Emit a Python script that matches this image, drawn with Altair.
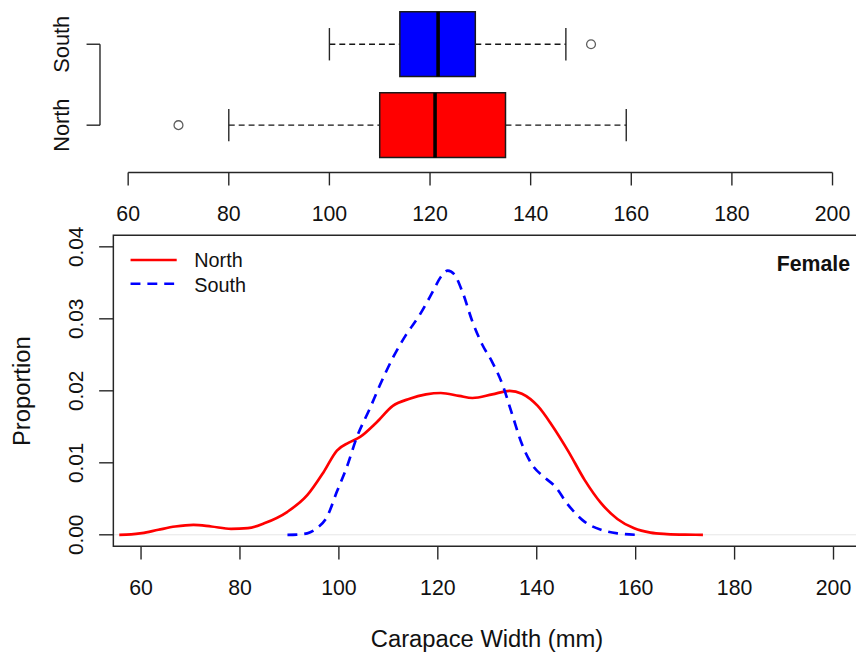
import altair as alt
import pandas as pd

# ---------------- data ----------------
groups = ["North", "South"]
group_pos = [1, 2]
box_lower = [80, 100]
box_q1 = [110, 114]
box_median = [121, 121.6]
box_q3 = [135, 129]
box_upper = [159, 147]
outlier_groups = ["North", "South"]
outlier_values = [70, 152]

north_x = [55.6, 58.0, 60.2, 63.5, 66.9, 70.6, 74.2, 78.2, 81.6, 84.9, 89.6, 93.6,
           96.9, 99.6, 102.0, 104.3, 107.6, 110.9, 114.3, 117.6, 120.6, 124.3, 127.0,
           131.0, 134.5, 137.0, 140.2, 143.0, 146.3, 149.7, 153.0, 156.3, 159.7,
           163.0, 166.3, 170.0, 173.6]
north_y = [0.0, 0.00005, 0.00023, 0.0007, 0.00115, 0.00138, 0.00115, 0.00083, 0.00092,
           0.0016, 0.0032, 0.0055, 0.0087, 0.0117, 0.0128, 0.0136, 0.0156, 0.0179,
           0.0189, 0.0195, 0.0197, 0.0193, 0.0190, 0.0195, 0.0200, 0.0196, 0.0179,
           0.0153, 0.0117, 0.0076, 0.0044, 0.0022, 0.0009, 0.0003, 0.0001, 0.00002, 0.0]

south_x = [89.6, 91.5, 93.6, 95.5, 97.6, 99.6, 101.6, 103.6, 106.3, 108.3, 111.0,
           113.6, 116.3, 119.0, 120.6, 122.0, 123.3, 125.0, 127.0, 129.0, 131.0,
           133.0, 135.0, 137.0, 139.0, 141.7, 143.6, 146.3, 149.7, 153.0, 156.3, 160.3]
south_y = [0.0, 0.00003, 0.0002, 0.0009, 0.0025, 0.0060, 0.0094, 0.0135, 0.0176,
           0.0208, 0.0247, 0.0278, 0.0305, 0.0338, 0.0358, 0.0367, 0.0362, 0.0337,
           0.0296, 0.0264, 0.0240, 0.0210, 0.0168, 0.0126, 0.0098, 0.0079, 0.0068,
           0.0042, 0.0018, 0.0007, 0.0002, 0.0]

x_ticks = [60, 80, 100, 120, 140, 160, 180, 200]
y_ticks = [0.0, 0.01, 0.02, 0.03, 0.04]
y_tick_labels = ["0.00", "0.01", "0.02", "0.03", "0.04"]
panel_label = "Female"
x_title = "Carapace Width (mm)"
y_title = "Proportion"
colors = ["#ff0000", "#0000ff"]

# ---------------- layout / style ----------------
W, H = 856, 653
FONT = "Liberation Sans"
INK = "#262626"
TXT = "#111111"
TICK_FS = 21.5
TITLE_FS = 24

XT = alt.Scale(domain=[60, 200], range=[121.3, 832.3], nice=False, zero=False)
YT = alt.Scale(domain=[1, 2], range=[115.2, 33.5], nice=False, zero=False)
XB = alt.Scale(domain=[60, 200], range=[134.3, 833.3], nice=False, zero=False)
YB = alt.Scale(domain=[0, 0.04], range=[528.7, 238.0], nice=False, zero=False)
COL = alt.Scale(domain=groups, range=colors)

xlo, xhi = min(x_ticks), max(x_ticks)
xpad = 0.04 * (xhi - xlo)
ylo, yhi = min(y_ticks), max(y_ticks)
ypad = 0.04 * (yhi - ylo)

# ---------------- top panel: boxplots ----------------
box_df = pd.DataFrame({"group": groups, "pos": group_pos, "lower": box_lower,
                       "q1": box_q1, "median": box_median, "q3": box_q3,
                       "upper": box_upper})
box_base = alt.Chart(box_df).transform_calculate(
    lo="datum.pos - 0.4", hi="datum.pos + 0.4",
    clo="datum.pos - 0.2", chi="datum.pos + 0.2")

whisk_lo = box_base.mark_rule(color="#151515", strokeDash=[6, 4], strokeWidth=1.4).encode(
    x=alt.X("lower:Q", scale=XT, axis=None), x2="q1:Q",
    y=alt.Y("pos:Q", scale=YT, axis=None))
whisk_hi = box_base.mark_rule(color="#151515", strokeDash=[6, 4], strokeWidth=1.4).encode(
    x=alt.X("q3:Q", scale=XT, axis=None), x2="upper:Q",
    y=alt.Y("pos:Q", scale=YT, axis=None))
cap_lo = box_base.mark_rule(color=INK, strokeWidth=1.4).encode(
    x=alt.X("lower:Q", scale=XT, axis=None),
    y=alt.Y("clo:Q", scale=YT, axis=None), y2="chi:Q")
cap_hi = box_base.mark_rule(color=INK, strokeWidth=1.4).encode(
    x=alt.X("upper:Q", scale=XT, axis=None),
    y=alt.Y("clo:Q", scale=YT, axis=None), y2="chi:Q")
boxes = box_base.mark_rect(stroke="#1a1a1a", strokeWidth=1.5).encode(
    x=alt.X("q1:Q", scale=XT, axis=None), x2="q3:Q",
    y=alt.Y("lo:Q", scale=YT, axis=None), y2="hi:Q",
    fill=alt.Fill("group:N", scale=COL, legend=None))
medians = box_base.mark_rule(color="#000000", strokeWidth=3.6).encode(
    x=alt.X("median:Q", scale=XT, axis=None),
    y=alt.Y("lo:Q", scale=YT, axis=None), y2="hi:Q")

out_df = pd.DataFrame({"group": outlier_groups,
                       "pos": [group_pos[groups.index(g)] for g in outlier_groups],
                       "value": outlier_values})
outliers = alt.Chart(out_df).mark_point(shape="circle", filled=False, size=80,
                                        color="#1a1a1a", strokeWidth=1.3).encode(
    x=alt.X("value:Q", scale=XT, axis=None),
    y=alt.Y("pos:Q", scale=YT, axis=None))

tick_df = pd.DataFrame({"v": x_ticks, "label": [str(t) for t in x_ticks]})
range_df = pd.DataFrame({"lo": [xlo], "hi": [xhi]})

top_axis_line = alt.Chart(range_df).mark_rule(color=INK, strokeWidth=1.4).encode(
    x=alt.X("lo:Q", scale=XT, axis=None), x2="hi:Q", y=alt.value(163))
top_axis_ticks = alt.Chart(tick_df).mark_rule(color=INK, strokeWidth=1.4).encode(
    x=alt.X("v:Q", scale=XT, axis=None), y=alt.value(163), y2=alt.value(176))
top_axis_labels = alt.Chart(tick_df).mark_text(
    font=FONT, fontSize=TICK_FS, color=TXT, align="center", baseline="alphabetic").encode(
    x=alt.X("v:Q", scale=XT, axis=None), y=alt.value(212), text="label:N")

grp_df = pd.DataFrame({"group": groups, "pos": group_pos, "xe": [xlo - xpad] * 2})
top_y_line = alt.Chart(pd.DataFrame({"xe": [xlo - xpad], "lo": [min(group_pos)],
                                     "hi": [max(group_pos)]})).mark_rule(
    color=INK, strokeWidth=1.4).encode(
    x=alt.X("xe:Q", scale=XT, axis=None),
    y=alt.Y("lo:Q", scale=YT, axis=None), y2="hi:Q")
top_y_ticks = alt.Chart(grp_df).mark_rule(color=INK, strokeWidth=1.4).encode(
    x=alt.X("xe:Q", scale=XT, axis=None), x2=alt.value(79.3),
    y=alt.Y("pos:Q", scale=YT, axis=None))
top_y_labels = alt.Chart(grp_df).mark_text(
    font=FONT, fontSize=22, color=TXT, align="center", baseline="alphabetic",
    angle=270).encode(
    x=alt.value(62), y=alt.Y("pos:Q", scale=YT, axis=None), text="group:N")

# ---------------- bottom panel: densities ----------------
frame_df = pd.DataFrame({"x1": [xlo - xpad], "x2": [xhi + xpad],
                         "y1": [ylo - ypad], "y2": [yhi + ypad], "z": [0.0]})
frame = alt.Chart(frame_df).mark_rect(fillOpacity=0, stroke=INK, strokeWidth=1.5).encode(
    x=alt.X("x1:Q", scale=XB, axis=None), x2="x2:Q",
    y=alt.Y("y1:Q", scale=YB, axis=None), y2="y2:Q")
zero_line = alt.Chart(frame_df).mark_rule(color="#e6e6e6", strokeWidth=1).encode(
    x=alt.X("x1:Q", scale=XB, axis=None), x2="x2:Q",
    y=alt.Y("z:Q", scale=YB, axis=None))

north_line = alt.Chart(pd.DataFrame({"x": north_x, "y": north_y})).mark_line(
    color=colors[0], strokeWidth=2.7, interpolate="monotone").encode(
    x=alt.X("x:Q", scale=XB, axis=None), y=alt.Y("y:Q", scale=YB, axis=None))
south_line = alt.Chart(pd.DataFrame({"x": south_x, "y": south_y})).mark_line(
    color=colors[1], strokeWidth=2.7, strokeDash=[10, 7], interpolate="monotone").encode(
    x=alt.X("x:Q", scale=XB, axis=None), y=alt.Y("y:Q", scale=YB, axis=None))

bx_ticks = alt.Chart(tick_df).mark_rule(color=INK, strokeWidth=1.4).encode(
    x=alt.X("v:Q", scale=XB, axis=None), y=alt.value(540.3), y2=alt.value(553.7))
bx_labels = alt.Chart(tick_df).mark_text(
    font=FONT, fontSize=TICK_FS, color=TXT, align="center", baseline="alphabetic").encode(
    x=alt.X("v:Q", scale=XB, axis=None), y=alt.value(589), text="label:N")

ytick_df = pd.DataFrame({"v": y_ticks, "label": y_tick_labels})
by_ticks = alt.Chart(ytick_df).mark_rule(color=INK, strokeWidth=1.4).encode(
    y=alt.Y("v:Q", scale=YB, axis=None), x=alt.value(92), x2=alt.value(106.7))
by_labels = alt.Chart(ytick_df).mark_text(
    font=FONT, fontSize=21, color=TXT, align="center", baseline="alphabetic",
    angle=270).encode(
    y=alt.Y("v:Q", scale=YB, axis=None), x=alt.value(75.3), text="label:N")

title_df = pd.DataFrame({"t": [x_title], "u": [y_title], "f": [panel_label]})
x_title_mark = alt.Chart(title_df).mark_text(
    font=FONT, fontSize=TITLE_FS, color=TXT, align="center", baseline="alphabetic").encode(
    x=alt.value(483.5), y=alt.value(642.3), text="t:N")
y_title_mark = alt.Chart(title_df).mark_text(
    font=FONT, fontSize=TITLE_FS, color=TXT, align="center", baseline="alphabetic",
    angle=270).encode(
    x=alt.value(22), y=alt.value(383.7), text="u:N")
female_mark = alt.Chart(title_df).mark_text(
    font=FONT, fontSize=21.5, fontWeight="bold", color=TXT, align="right",
    baseline="alphabetic").encode(
    x=alt.value(850), y=alt.value(262), text="f:N")

# legend
leg_df = pd.DataFrame({"group": groups, "row": [0, 1]})
leg_lines = alt.Chart(leg_df).mark_rule(strokeWidth=2.7).encode(
    x=alt.value(123.7), x2=alt.value(170.3),
    y=alt.Y("row:Q", scale=alt.Scale(domain=[0, 1], range=[251.3, 275.3]), axis=None),
    color=alt.Color("group:N", scale=COL, legend=None),
    strokeDash=alt.StrokeDash("group:N",
                              scale=alt.Scale(domain=groups, range=[[1, 0], [10, 7]]),
                              legend=None))
leg_text = alt.Chart(leg_df).mark_text(
    font=FONT, fontSize=20, color=TXT, align="left", baseline="alphabetic").encode(
    x=alt.value(188),
    y=alt.Y("row:Q", scale=alt.Scale(domain=[0, 1], range=[258, 283.7]), axis=None),
    text="group:N")

chart = alt.layer(
    whisk_lo, whisk_hi, cap_lo, cap_hi, boxes, medians, outliers,
    top_axis_line, top_axis_ticks, top_axis_labels,
    top_y_line, top_y_ticks, top_y_labels,
    zero_line, north_line, south_line, frame,
    bx_ticks, bx_labels, by_ticks, by_labels,
    x_title_mark, y_title_mark, female_mark,
    leg_lines, leg_text,
).resolve_scale(
    x="independent", y="independent"
).properties(
    width=W, height=H, padding=0,
    autosize=alt.AutoSizeParams(type="none"),
    background="white",
).configure_view(stroke=None)

chart.save("out.html", embed_options={"renderer": "svg", "actions": False})
